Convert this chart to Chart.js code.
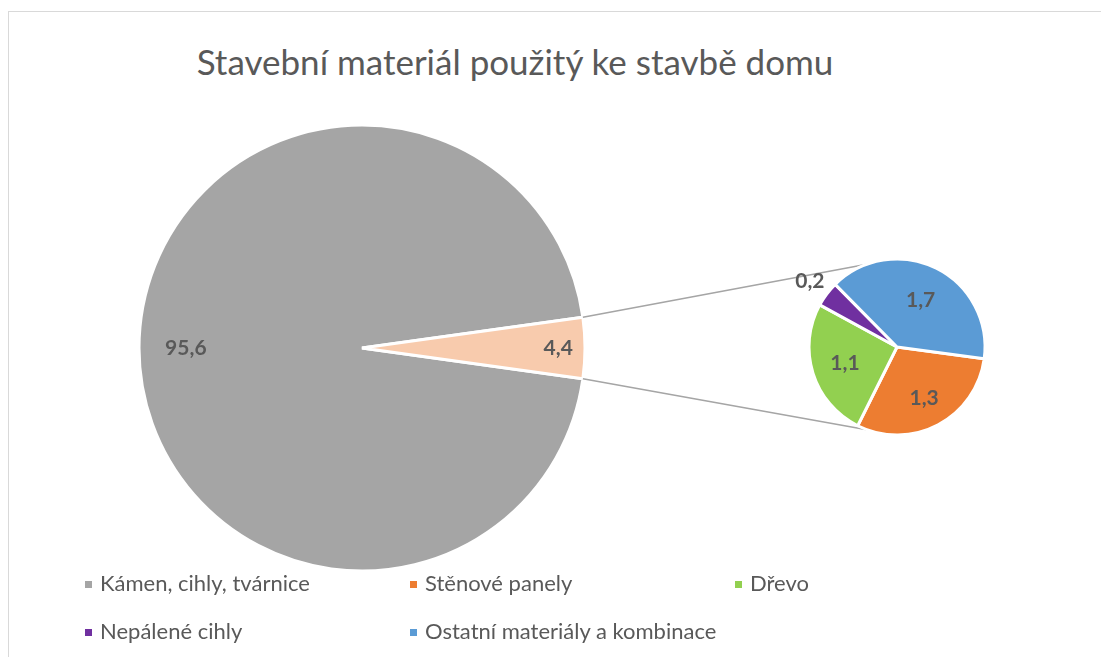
<!DOCTYPE html>
<html>
<head>
<meta charset="utf-8">
<script src="https://cdn.jsdelivr.net/npm/chart.js@4.4.1/dist/chart.umd.min.js"></script>
<style>
  body { margin: 0; background: #fff; }
  #wrap { position: relative; width: 1101px; height: 657px; overflow: hidden; font-family: Lato, "Open Sans", sans-serif; color: #595959; }
  #frame { position: absolute; left: 8px; top: 11px; width: 1300px; height: 900px; border: 1px solid #D9D9D9; }
  #wrap canvas { position: absolute; left: 0; top: 0; }
  #title { position: absolute; left: 0; top: 40px; width: 1030px; text-align: center; font-size: 35px; font-weight: 400; }
  #legend { position: absolute; left: 85px; top: 569px; width: 1000px; }
  .item { position: absolute; font-size: 22px; white-space: nowrap; height: 28px; line-height: 28px; }
  .item i { display: inline-block; width: 7px; height: 7px; margin-right: 8px; vertical-align: middle; position: relative; top: -1px; }
</style>
</head>
<body>
<div id="wrap">
  <div id="frame"></div>
  <div id="title">Stavební materiál použitý ke stavbě domu</div>
  <canvas id="mainPie" width="1101" height="657"></canvas>
  <canvas id="subPie" width="1101" height="657"></canvas>
  <div id="legend"></div>
</div>
<script>
// main pie: stone/bricks vs. everything else
const mainLabels = ['Kámen, cihly, tvárnice', 'Ostatní'];
const mainValues = [95.6, 4.4];

// breakdown of the "other" slice
const subLabels = ['Stěnové panely', 'Dřevo', 'Nepálené cihly', 'Ostatní materiály a kombinace'];
const subValues = [1.3, 1.1, 0.2, 1.7];

const legendLabels = ['Kámen, cihly, tvárnice', 'Stěnové panely', 'Dřevo', 'Nepálené cihly', 'Ostatní materiály a kombinace'];

const colors = {
    stone: '#A5A5A5',
    other: '#F8CBAD',
    panels: '#ED7D31',
    wood: '#92D050',
    adobe: '#7030A0',
    rest: '#5B9BD5',
    text: '#595959',
    line: '#A5A5A5'
};
const legendColors = [colors.stone, colors.panels, colors.wood, colors.adobe, colors.rest];

const fmt = v => v.toFixed(1).replace('.', ',');

// draws the value labels, each at its own fraction of the radius
const valueLabels = {
    id: 'valueLabels',
    afterDatasetsDraw(chart, args, opts) {
        const ctx = chart.ctx;
        const meta = chart.getDatasetMeta(0);
        ctx.save();
        ctx.font = 'bold 21px Lato, sans-serif';
        ctx.fillStyle = colors.text;
        ctx.textAlign = 'center';
        ctx.textBaseline = 'middle';
        meta.data.forEach((arc, i) => {
            const mid = (arc.startAngle + arc.endAngle) / 2;
            const r = arc.outerRadius * opts.dist[i];
            const v = chart.data.datasets[0].data[i];
            ctx.fillText(fmt(v), arc.x + Math.cos(mid) * r, arc.y + Math.sin(mid) * r);
        });
        ctx.restore();
    }
};

// second pie first, so the main one can aim its connector lines at it
const otherAngle = mainValues[1] / (mainValues[0] + mainValues[1]) * 360;

const subChart = new Chart(document.getElementById('subPie'), {
    type: 'pie',
    data: {
        labels: subLabels,
        datasets: [{
            data: subValues,
            backgroundColor: [colors.panels, colors.wood, colors.adobe, colors.rest],
            borderColor: '#fff',
            borderWidth: 3
        }]
    },
    options: {
        responsive: false,
        animation: false,
        rotation: 97.7,
        radius: 88,
        layout: { padding: { left: 809, right: 116, top: 259, bottom: 222 } },
        plugins: {
            legend: { display: false },
            tooltip: { enabled: false },
            valueLabels: { dist: [0.66, 0.62, 1.24, 0.6] }
        }
    },
    plugins: [valueLabels]
});

const connectors = {
    id: 'connectors',
    afterDatasetsDraw(chart) {
        const arc = chart.getDatasetMeta(0).data[1];
        const sub = subChart.getDatasetMeta(0).data[0];
        const ctx = chart.ctx;
        const a = otherAngle / 2 * Math.PI / 180;
        const b = 110 * Math.PI / 180;
        ctx.save();
        ctx.strokeStyle = colors.line;
        ctx.lineWidth = 1.5;
        ctx.beginPath();
        ctx.moveTo(arc.x + Math.cos(-a) * arc.outerRadius, arc.y + Math.sin(-a) * arc.outerRadius);
        ctx.lineTo(sub.x + Math.cos(-b) * sub.outerRadius, sub.y + Math.sin(-b) * sub.outerRadius);
        ctx.moveTo(arc.x + Math.cos(a) * arc.outerRadius, arc.y + Math.sin(a) * arc.outerRadius);
        ctx.lineTo(sub.x + Math.cos(b) * sub.outerRadius, sub.y + Math.sin(b) * sub.outerRadius);
        ctx.stroke();
        ctx.restore();
    }
};

new Chart(document.getElementById('mainPie'), {
    type: 'pie',
    data: {
        labels: mainLabels,
        datasets: [{
            data: mainValues,
            backgroundColor: [colors.stone, colors.other],
            borderColor: '#fff',
            borderWidth: 3
        }]
    },
    options: {
        responsive: false,
        animation: false,
        rotation: 90 + otherAngle / 2,
        radius: 223,
        layout: { padding: { left: 139, right: 516, top: 125, bottom: 86 } },
        plugins: {
            legend: { display: false },
            tooltip: { enabled: false },
            valueLabels: { dist: [0.79, 0.88] }
        }
    },
    plugins: [valueLabels, connectors]
});

// legend: three columns, two rows
const legend = document.getElementById('legend');
legendLabels.forEach((label, i) => {
    const el = document.createElement('div');
    el.className = 'item';
    el.style.left = (i % 3) * 325 + 'px';
    el.style.top = Math.floor(i / 3) * 48 + 'px';
    el.innerHTML = '<i style="background:' + legendColors[i] + '"></i>' + label;
    legend.appendChild(el);
});
</script>
</body>
</html>
